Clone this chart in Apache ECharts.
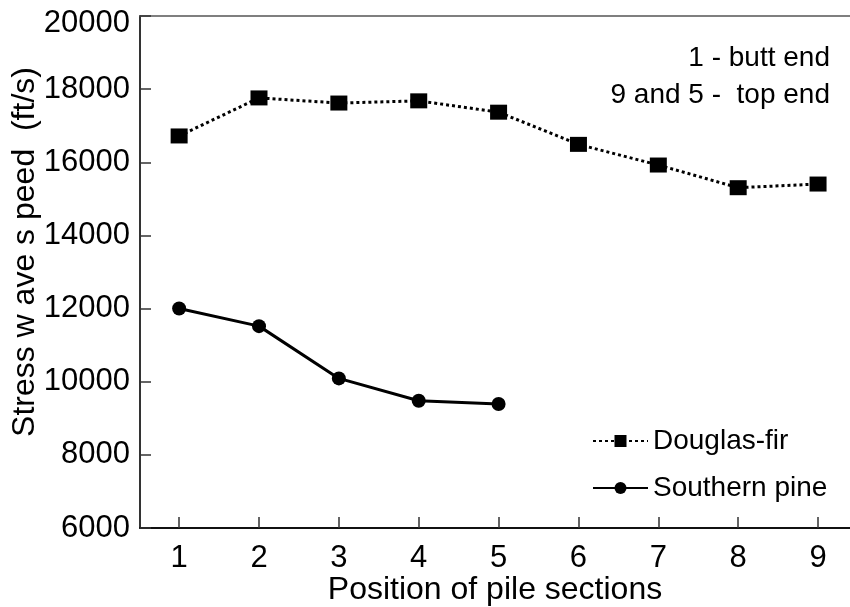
<!DOCTYPE html>
<html>
<head>
<meta charset="utf-8">
<script src="https://cdn.jsdelivr.net/npm/echarts@6/dist/echarts.min.js"></script>
<style>
  html, body { margin: 0; padding: 0; background: #fff; }
  #chart { width: 850px; height: 607px; }
</style>
</head>
<body>
<div id="chart"></div>
<script>
// Pile section positions (1 = butt end)
const positions = [1, 2, 3, 4, 5, 6, 7, 8, 9];
// Stress wave speed, ft/s
const douglasFir = [16720, 17760, 17620, 17680, 17370, 16490, 15925, 15305, 15405];
const southernPine = [12000, 11520, 10090, 9480, 9390];
const yTicks = [6000, 8000, 10000, 12000, 14000, 16000, 18000, 20000];

const FONT = '"Liberation Sans", Arial, sans-serif';
const TICK_FS = 31;
const NAME_FS = 32;
const NOTE_FS = 28;

const yMin = yTicks[0];
const yMax = yTicks[yTicks.length - 1];

const pair = (xs, ys) => ys.map((v, i) => [xs[i], v]);

const chart = echarts.init(document.getElementById('chart'), null, { renderer: 'canvas' });

chart.setOption({
  animation: false,
  backgroundColor: '#ffffff',
  textStyle: { fontFamily: FONT, color: '#000' },
  grid: { left: 140, right: 0, top: 16, bottom: 79, containLabel: false, outerBoundsMode: 'none' },
  xAxis: [
    {
      type: 'value',
      min: 0.51,
      max: 9.4,
      name: 'Position of pile sections',
      nameLocation: 'middle',
      nameGap: 46,
      nameMoveOverlap: false,
      nameTextStyle: { fontFamily: FONT, fontSize: NAME_FS, color: '#000' },
      axisLine: { show: true, onZero: false, lineStyle: { color: '#111', width: 2 } },
      axisTick: {
        show: true, inside: true, length: 11,
        customValues: positions,
        lineStyle: { color: '#333', width: 1.5 }
      },
      axisLabel: {
        customValues: positions,
        fontFamily: FONT, fontSize: TICK_FS, color: '#000', margin: 15
      },
      splitLine: { show: false }
    },
    {
      // plain frame line along the top of the plot
      type: 'value',
      position: 'top',
      min: 0.51,
      max: 9.4,
      axisLine: { show: true, lineStyle: { color: '#555', width: 1.5 } },
      axisTick: { show: false },
      axisLabel: { show: false },
      splitLine: { show: false }
    }
  ],
  yAxis: {
    type: 'value',
    min: yMin,
    max: yMax,
    interval: 2000,
    name: 'Stress w ave s peed  (ft/s)',
    nameLocation: 'middle',
    nameGap: 99,
    nameMoveOverlap: false,
    nameTextStyle: { fontFamily: FONT, fontSize: NAME_FS, color: '#000', padding: [0, 0, 0, 40] },
    axisLine: { show: true, lineStyle: { color: '#333', width: 2 } },
    axisTick: { show: true, inside: true, length: 11, lineStyle: { color: '#333', width: 1.5 } },
    axisLabel: {
      fontFamily: FONT, fontSize: TICK_FS, color: '#000', margin: 10,
      formatter: (v) => (v === yMax ? '{top|' + v + '}' : String(v)),
      rich: { top: { fontFamily: FONT, fontSize: TICK_FS, color: '#000', padding: [15, 0, 0, 0] } }
    },
    splitLine: { show: false }
  },
  legend: {
    orient: 'vertical',
    left: 592,
    top: 427,
    padding: 0,
    itemWidth: 55,
    itemHeight: 15,
    itemGap: 19,
    textStyle: { fontFamily: FONT, fontSize: NOTE_FS, color: '#000' },
    data: ['Douglas-fir', 'Southern pine']
  },
  graphic: [
    {
      type: 'text', right: 20, top: 44,
      style: { text: '1 - butt end', font: NOTE_FS + 'px ' + FONT, fill: '#000', align: 'right' }
    },
    {
      type: 'text', right: 20, top: 81,
      style: { text: '9 and 5 -  top end', font: NOTE_FS + 'px ' + FONT, fill: '#000', align: 'right' }
    }
  ],
  series: [
    {
      name: 'Douglas-fir',
      type: 'line',
      data: pair(positions, douglasFir),
      symbol: 'rect',
      symbolSize: [17, 15],
      itemStyle: { color: '#000' },
      lineStyle: { color: '#000', width: 3, type: [3, 3], cap: 'butt' },
      z: 3
    },
    {
      name: 'Southern pine',
      type: 'line',
      data: pair(positions, southernPine),
      symbol: 'circle',
      symbolSize: 14,
      itemStyle: { color: '#000' },
      lineStyle: { color: '#000', width: 3 },
      z: 3
    }
  ]
});
</script>
</body>
</html>
